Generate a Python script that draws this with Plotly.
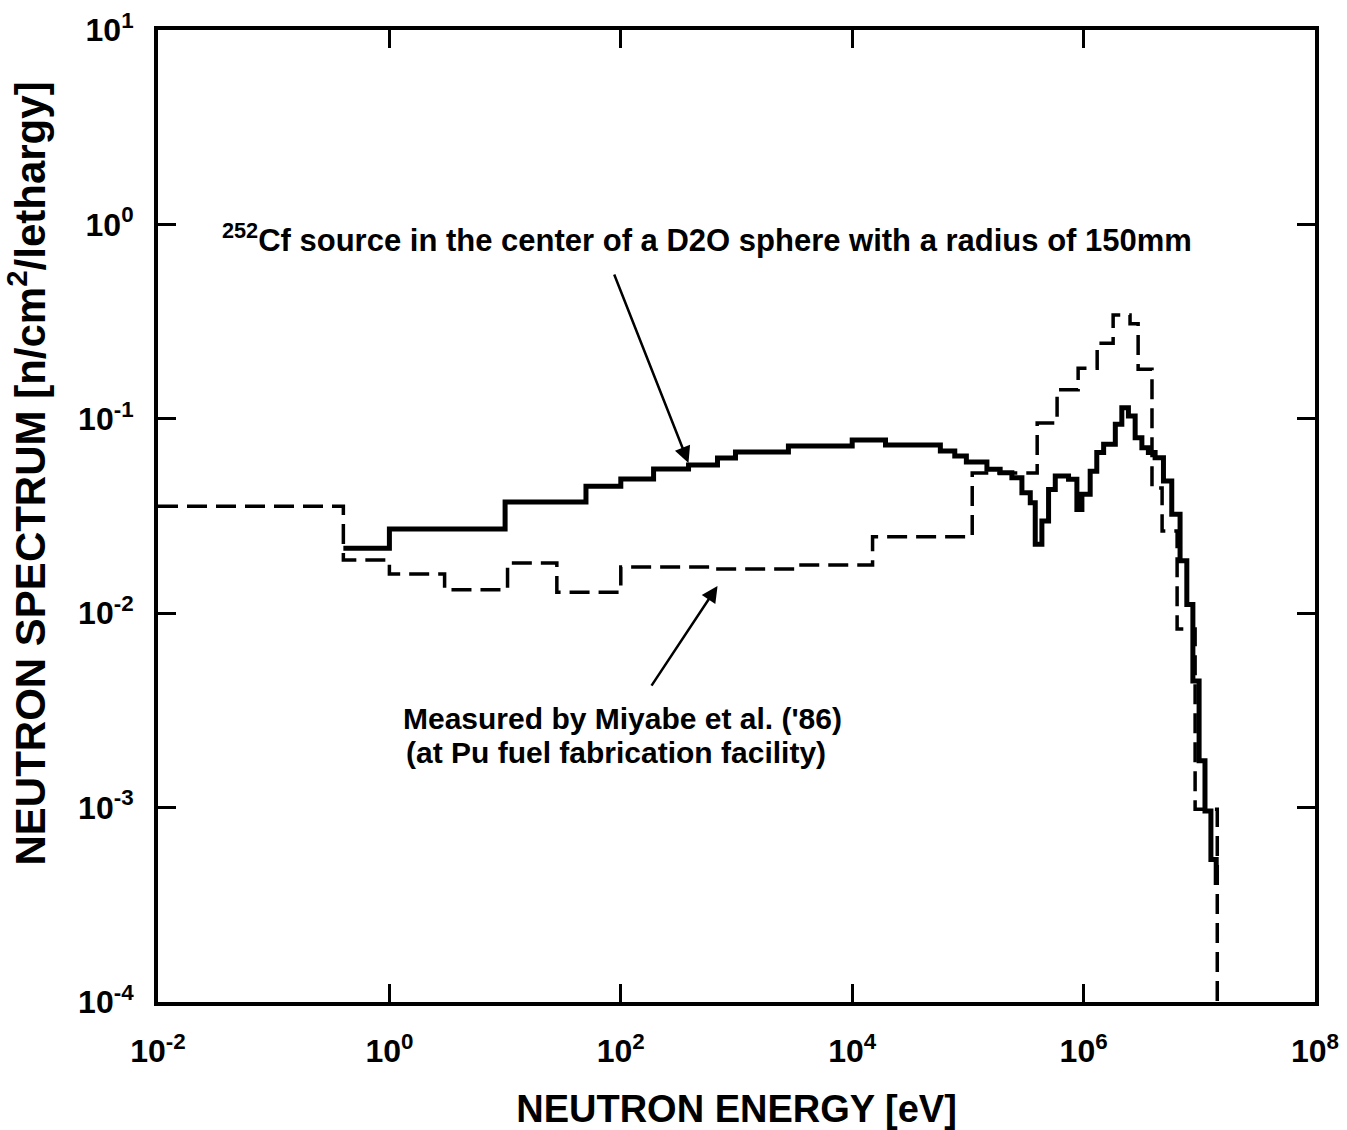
import plotly.graph_objects as go

# ---- Data ----
# Measured spectrum (Miyabe et al. '86), step histogram: left bin edges (eV) and values
meas_E = [0.01, 0.4, 1.0, 3.0, 10.5, 28, 100, 560, 3400, 1.5e4, 1.09e5, 3.97e5, 5.9e5,
          8.97e5, 1.31e6, 1.8e6, 2.52e6, 2.96e6, 3.9e6, 4.77e6, 6.43e6, 9.2e6, 1.43e7]
meas_v = [0.0355, 0.0188, 0.0159, 0.0132, 0.0181, 0.0128, 0.0173, 0.0169, 0.0177, 0.0247,
          0.0526, 0.0951, 0.141, 0.182, 0.245, 0.342, 0.308, 0.180, 0.044, 0.0265,
          0.0083, 0.00098, 1e-6]

# Calculated spectrum: 252Cf source in D2O sphere (r = 150 mm)
calc_E = [0.4, 1.0, 10, 50, 100, 192, 385, 685, 980, 2810, 1.0e4, 1.94e4, 5.78e4, 7.7e4,
          9.7e4, 1.46e5, 1.9e5, 2.4e5, 2.93e5, 3.46e5, 3.82e5, 4.36e5, 4.98e5, 5.69e5,
          7.41e5, 8.75e5, 9.67e5, 1.14e6, 1.30e6, 1.49e6, 1.88e6, 2.14e6, 2.44e6, 2.79e6,
          3.19e6, 3.63e6, 4.15e6, 4.9e6, 5.78e6, 6.82e6, 7.8e6, 8.8e6, 9.96e6, 1.12e7,
          1.26e7, 1.4e7]
calc_v = [0.0216, 0.0271, 0.0373, 0.045, 0.049, 0.0552, 0.0578, 0.0628, 0.0674, 0.0724,
          0.0778, 0.0733, 0.0683, 0.0644, 0.0600, 0.0550, 0.0528, 0.0498, 0.0417, 0.0370,
          0.0226, 0.0298, 0.0433, 0.0508, 0.0489, 0.0342, 0.0409, 0.0538, 0.0670, 0.0740,
          0.0938, 0.114, 0.1033, 0.0800, 0.0710, 0.0670, 0.0631, 0.0478, 0.0323, 0.0186,
          0.0111, 0.00448, 0.00174, 0.00096, 0.00054, 0.0004]

x_tickvals = [1e-2, 1e0, 1e2, 1e4, 1e6, 1e8]
x_ticktext = ["<b>10<sup>-2</sup></b>", "<b>10<sup>0</sup></b>", "<b>10<sup>2</sup></b>",
              "<b>10<sup>4</sup></b>", "<b>10<sup>6</sup></b>", "<b>10<sup>8</sup></b>"]
y_tickvals = [1e-4, 1e-3, 1e-2, 1e-1, 1e0, 1e1]
y_ticktext = ["<b>10<sup>-4</sup></b>", "<b>10<sup>-3</sup></b>", "<b>10<sup>-2</sup></b>",
              "<b>10<sup>-1</sup></b>", "<b>10<sup>0</sup></b>", "<b>10<sup>1</sup></b>"]

FONT = "Liberation Sans, Arial, sans-serif"

fig = go.Figure()
fig.add_trace(go.Scatter(x=meas_E, y=meas_v, mode="lines", line_shape="hv",
                         line=dict(color="black", width=3.5, dash="20px,9px"),
                         showlegend=False))
fig.add_trace(go.Scatter(x=calc_E, y=calc_v, mode="lines", line_shape="hv",
                         line=dict(color="black", width=5),
                         showlegend=False))

axis_common = dict(showgrid=False, zeroline=False, showline=True, linecolor="black",
                   linewidth=4, mirror="allticks", ticks="inside", ticklen=18,
                   tickwidth=3, tickcolor="black", automargin=False)

fig.update_xaxes(type="log", range=[-2, 8], tickvals=x_tickvals, ticktext=x_ticktext,
                 tickfont=dict(family=FONT, size=32, color="black"),
                 ticklabelstandoff=18,
                 title=dict(text="<b>NEUTRON ENERGY [eV]</b>", standoff=28,
                            font=dict(family=FONT, size=38, color="black")),
                 **axis_common)
fig.update_yaxes(type="log", range=[-4, 1], tickvals=y_tickvals, ticktext=y_ticktext,
                 tickfont=dict(family=FONT, size=32, color="black"),
                 ticklabelstandoff=14,
                 **axis_common)

# y-axis title (placed slightly above the axis centre, as in the reference)
fig.add_annotation(x=-0.113, y=0.544, xref="paper", yref="paper", textangle=-90,
                   xanchor="center", yanchor="middle",
                   text="<b>NEUTRON SPECTRUM [n/cm<sup>2</sup>/lethargy]</b>",
                   showarrow=False, font=dict(family=FONT, size=42, color="black"))

fig.add_annotation(x=2.741, y=-0.070, xref="x", yref="y",
                   text="<b><sup>252</sup>Cf source in the center of a D2O sphere with a radius of 150mm</b>",
                   showarrow=False, font=dict(family=FONT, size=31, color="black"))
fig.add_annotation(x=2.585, y=-1.227, ax=1.938, ay=-0.250, xref="x", yref="y",
                   axref="x", ayref="y", text="", showarrow=True, arrowhead=2,
                   arrowsize=1.3, arrowwidth=2.5, arrowcolor="black")
fig.add_annotation(x=2.836, y=-1.860, ax=2.257, ay=-2.380, xref="x", yref="y",
                   axref="x", ayref="y", text="", showarrow=True, arrowhead=2,
                   arrowsize=1.3, arrowwidth=2.5, arrowcolor="black")
fig.add_annotation(x=0.098, y=-2.544, xref="x", yref="y", xanchor="left",
                   text="<b>Measured by Miyabe et al. ('86)</b>", showarrow=False,
                   font=dict(family=FONT, size=30, color="black"))
fig.add_annotation(x=0.124, y=-2.719, xref="x", yref="y", xanchor="left",
                   text="<b>(at Pu fuel fabrication facility)</b>", showarrow=False,
                   font=dict(family=FONT, size=30, color="black"))

fig.update_layout(width=1347, height=1130, plot_bgcolor="white", paper_bgcolor="white",
                  margin=dict(l=158, r=32, t=30, b=128))

fig.write_html("out.html")
